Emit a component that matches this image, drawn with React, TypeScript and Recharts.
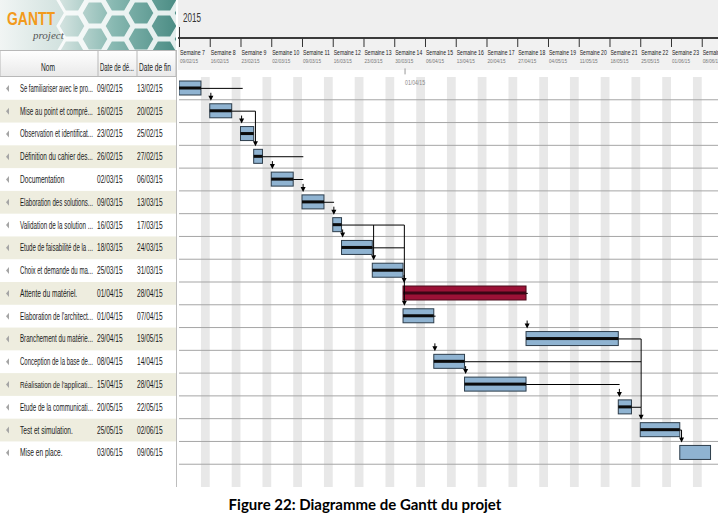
import React from 'react';
import { ComposedChart, Bar, XAxis, YAxis, ReferenceArea, ReferenceLine, ReferenceDot } from 'recharts';

// tâches du projet (colonne Nom, Date de début, Date de fin)
const taskNames = [
  'Se familiariser avec le pro...',
  'Mise au point et compré...',
  'Observation et identificat...',
  'Définition du cahier des...',
  'Documentation',
  'Elaboration des solutions...',
  'Validation de la solution ...',
  'Etude de faisabilité de la ...',
  'Choix et demande du ma...',
  'Attente du matériel.',
  "Elaboration de l'architect...",
  'Branchement du matérie...',
  'Conception de la base de...',
  "Réalisation de l'applicati...",
  'Etude de la communicati...',
  'Test et simulation.',
  'Mise en place.',
];
const startDates = ['09/02/15', '16/02/15', '23/02/15', '26/02/15', '02/03/15', '09/03/15', '16/03/15', '18/03/15', '25/03/15', '01/04/15', '01/04/15', '29/04/15', '08/04/15', '15/04/15', '20/05/15', '25/05/15', '03/06/15'];
const endDates = ['13/02/15', '20/02/15', '25/02/15', '27/02/15', '06/03/15', '13/03/15', '17/03/15', '24/03/15', '31/03/15', '28/04/15', '07/04/15', '19/05/15', '14/04/15', '28/04/15', '22/05/15', '02/06/15', '09/06/15'];
const progress = [100, 100, 100, 100, 100, 100, 100, 100, 100, 100, 100, 100, 100, 100, 100, 100, 0];
const criticalTasks = ['Attente du matériel.'];

// en-tête du calendrier
const weekNumbers = [7, 8, 9, 10, 11, 12, 13, 14, 15, 16, 17, 18, 19, 20, 21, 22, 23, 24];
const weekDates = ['09/02/15', '16/02/15', '23/02/15', '02/03/15', '09/03/15', '16/03/15', '23/03/15', '30/03/15', '06/04/15', '13/04/15', '20/04/15', '27/04/15', '04/05/15', '11/05/15', '18/05/15', '25/05/15', '01/06/15', '08/06/15'];
const todayLabel = '01/04/15';

// liens: [ligne, jusqu'au jour] ; descentes: [tâche cible, depuis la ligne, jour]
const hLinks = [[0, 14.5], [1, 17.4], [3, 28.3], [4, 28.3], [5, 35.3], [6, 51.3], [7, 51.3], [9, 79.4], [10, 58.4], [11, 105.2], [12, 105.2], [13, 100.3], [14, 105.2], [15, 114.4]];
const vLinks = [[3, 1, 17.4], [10, 6, 51.3], [8, 6, 44.3], [15, 11, 105.2], [16, 15, 114.4]];

const FONT = '"Liberation Sans", Arial, sans-serif';
const CHART_W = 539;
const CHART_H = 487;
const HEADER_H = 77;
const NROWS = 18;
const ROW_H = (CHART_H - HEADER_H) / NROWS;

const toDay = (s: string) => {
  const [d, m, y] = s.split('/').map(Number);
  return Math.round((Date.UTC(2000 + y, m - 1, d) - Date.UTC(2015, 1, 9)) / 86400000);
};

const tasks = taskNames.map((name, i) => {
  const s = toDay(startDates[i]);
  const e = toDay(endDates[i]) + 1;
  return { name, offset: s, duration: e - s, end: e, progress: progress[i], critical: criticalTasks.includes(name) };
});
const chartData: any[] = [...tasks, { name: '' }];
const weekStarts = weekDates.map(toDay);

let ctx: CanvasRenderingContext2D | null = null;
const measure = (text: string, size: number, weight = 'normal') => {
  if (!ctx) ctx = document.createElement('canvas').getContext('2d');
  if (!ctx) return text.length * size * 0.5;
  ctx.font = `${weight} ${size}px "Liberation Sans"`;
  return ctx.measureText(text).width || text.length * size * 0.5;
};

// texte écrasé horizontalement comme dans la capture
const SqText = ({ x, y, text, size = 10, width, max = 73, ratio = 0.66, fill = '#1a1a1a', anchor = 'start', weight = 'normal' }: any) => {
  const w = measure(text, size, weight);
  const target = width ?? Math.min(w * ratio, max);
  return (
    <text transform={`translate(${x},${y}) scale(${(target / w).toFixed(3)},1)`} fontSize={size} fill={fill}
      fontFamily={FONT} fontWeight={weight} textAnchor={anchor}>{text}</text>
  );
};

const hexPath = (cx: number, cy: number, r: number) => {
  const pts = [0, 1, 2, 3, 4, 5].map(k => {
    const a = (Math.PI / 3) * k;
    return `${(cx + r * Math.cos(a)).toFixed(1)},${(cy + r * Math.sin(a)).toFixed(1)}`;
  });
  return `M${pts.join('L')}Z`;
};

const LeftPanel = () => (
  <svg width={178} height={CHART_H} style={{ position: 'absolute', left: 0, top: 0 }}>
    <defs>
      <linearGradient id="logoBg" x1="0" y1="0" x2="1" y2="0">
        <stop offset="0%" stopColor="#f1f5f4" />
        <stop offset="35%" stopColor="#d2e2df" />
        <stop offset="65%" stopColor="#87b8b1" />
        <stop offset="100%" stopColor="#4c8d85" />
      </linearGradient>
      <linearGradient id="headBg" x1="0" y1="0" x2="0" y2="1">
        <stop offset="0%" stopColor="#ffffff" />
        <stop offset="100%" stopColor="#e9e9e9" />
      </linearGradient>
      <clipPath id="logoClip"><rect x={0} y={0} width={176} height={50} /></clipPath>
    </defs>
    <rect x={0} y={0} width={176} height={50} fill="url(#logoBg)" />
    <g clipPath="url(#logoClip)" stroke="#ffffff" strokeWidth={3} fill="none" opacity={0.85}>
      {[0, 1, 2, 3, 4, 5].map(c => [-1, 0, 1, 2].map(r => (
        <path key={`${c}-${r}`} d={hexPath(72 + c * 23, r * 26 + (c % 2) * 13, 14)} />
      )))}
    </g>
    <SqText x={7} y={25} size={18} text="GANTT" width={48} fill="#f29a1c" weight="bold" />
    <text x={33} y={39} fontSize={11} fontStyle="italic" fill="#555" fontFamily='"Liberation Serif", serif'>project</text>

    <rect x={0} y={50.5} width={176} height={26} fill="url(#headBg)" stroke="#b8b8b8" />
    <line x1={98} x2={98} y1={51} y2={77} stroke="#b8b8b8" />
    <line x1={137} x2={137} y1={51} y2={77} stroke="#b8b8b8" />
    <SqText x={48} y={71} text="Nom" anchor="middle" />
    <SqText x={100} y={71} text="Date de dé..." max={34} />
    <SqText x={139} y={71} text="Date de fin" max={33} />

    {tasks.map((t, i) => {
      const top = HEADER_H + i * ROW_H;
      const cy = top + ROW_H / 2;
      return (
        <g key={t.name}>
          {i % 2 === 1 && <rect x={0} y={top} width={176} height={ROW_H} fill="#eeeddf" />}
          <path d={`M9,${cy - 3.5} L6,${cy} L9,${cy + 3.5} Z`} fill="#a5a5a5" />
          <SqText x={20} y={cy + 3.5} text={t.name} />
          <SqText x={97} y={cy + 3.5} text={startDates[i]} max={27} />
          <SqText x={137} y={cy + 3.5} text={endDates[i]} max={27} />
        </g>
      );
    })}
    <line x1={176.5} x2={176.5} y1={50} y2={CHART_H} stroke="#bdbdbd" />
  </svg>
);

const WeekTick = (props: any) => {
  const { x, index } = props;
  const n = weekNumbers[index];
  if (n === undefined) return null;
  return (
    <g>
      {index === 0 && <SqText x={x + 4} y={22} size={13} text="2015" width={18} fill="#333" />}
      <line x1={x + 0.5} x2={x + 0.5} y1={index === 0 ? 27 : 38} y2={47} stroke="#333" />
      <SqText x={x + 1} y={55} size={8} text={`Semaine ${n}`} width={n < 10 ? 25 : 27} fill="#222" />
      <SqText x={x + 1} y={63} size={6} text={weekDates[index]} width={18} fill="#777" />
    </g>
  );
};

const TaskBar = (props: any) => {
  const { x, y, width, height, payload } = props;
  if (!payload || !(width > 0)) return null;
  const red = payload.critical;
  const fill = red ? '#9b1136' : '#8fb3d1';
  const stroke = red ? '#4a0a1a' : '#2d3d4b';
  const line = red ? '#3a0615' : '#0b0b0b';
  const pw = (width * payload.progress) / 100;
  return (
    <g>
      <rect x={x} y={y} width={width} height={height} fill={fill} stroke={stroke} strokeWidth={1} />
      {pw > 0 && <rect x={x} y={y + height / 2 - 1.5} width={pw} height={3} fill={line} />}
    </g>
  );
};

// flèche posée sur le haut de la ligne (cy = centre de la ligne)
const Arrow = ({ cx, cy, long }: any) => {
  const tip = cy - ROW_H / 2 + 1;
  return (
    <g>
      <line x1={cx} x2={cx} y1={long ? cy - ROW_H : tip - 8} y2={tip - 4} stroke="#000" />
      <path d={`M${cx - 2.5},${tip - 5} L${cx + 2.5},${tip - 5} L${cx},${tip} Z`} fill="#000" />
    </g>
  );
};

const TodayMark = ({ cx, cy }: any) => (
  <g>
    <line x1={cx + 2} x2={cx + 2} y1={cy - 20} y2={cy - 14} stroke="#999" />
    <SqText x={cx + 2} y={cy - 3} size={7} text={todayLabel} width={20} fill="#888" />
  </g>
);

export default function App() {
  return (
    <div style={{ position: 'absolute', left: 0, top: 0, width: 718, height: 513, background: '#fff', overflow: 'hidden' }}>
      <LeftPanel />
      <div style={{ position: 'absolute', left: 178, top: 0, width: 540, height: 37, background: '#efefef' }} />
      <div style={{ position: 'absolute', left: 178, top: 37, width: 540, height: 2, background: '#3a3a3a' }} />
      <div style={{ position: 'absolute', left: 178, top: 39, width: 540, height: 31, background: '#f1f1f1' }} />
      <div style={{ position: 'absolute', left: 179, top: 0 }}>
        <ComposedChart width={CHART_W} height={CHART_H} data={chartData} layout="vertical"
          margin={{ top: 0, right: 0, bottom: 0, left: 0 }} barCategoryGap={0}>
          <XAxis type="number" orientation="top" domain={[0, 122.7]} ticks={weekStarts} interval={0}
            height={HEADER_H} axisLine={false} tickLine={false} tick={(p: any) => <WeekTick {...p} />} allowDataOverflow />
          <YAxis type="category" dataKey="name" hide />

          {weekStarts.filter(w => w + 5 < 122.7).map(w => (
            <ReferenceArea key={`we-${w}`} x1={w + 5} x2={Math.min(w + 7, 122.7)}
              fill="#e8e8e8" fillOpacity={1} stroke="none" ifOverflow="hidden" />
          ))}
          {tasks.map(t => (
            <ReferenceLine key={`rl-${t.name}`} y={t.name} position="end" stroke="#a5a5a5" strokeWidth={1} />
          ))}

          <Bar dataKey="offset" stackId="g" fill="none" barSize={14} isAnimationActive={false} />
          <Bar dataKey="duration" stackId="g" barSize={14} shape={(p: any) => <TaskBar {...p} />} isAnimationActive={false} />

          {hLinks.map(([r, to]) => (
            <ReferenceLine key={`h-${r}-${to}`} stroke="#000" strokeWidth={1}
              segment={[{ x: tasks[r].end, y: tasks[r].name }, { x: to, y: tasks[r].name }]} />
          ))}
          {vLinks.filter(([target, from]) => target - 1 > from).map(([target, from, d]) => (
            <ReferenceLine key={`v-${target}-${from}`} stroke="#000" strokeWidth={1}
              segment={[{ x: d, y: tasks[from].name }, { x: d, y: tasks[target - 1].name }]} />
          ))}
          {tasks.slice(1).map((t, i) => {
            const link = vLinks.find(v => v[0] === i + 1);
            return (
              <ReferenceDot key={`a-${t.name}`} x={link ? link[2] : t.offset + 0.25} y={t.name} r={0}
                shape={(p: any) => <Arrow {...p} long={!!link} />} />
            );
          })}
          <ReferenceDot x={toDay(todayLabel)} y={tasks[0].name} r={0} shape={(p: any) => <TodayMark {...p} />} />
        </ComposedChart>
      </div>
      <div style={{ position: 'absolute', left: 0, top: 495, width: 730, textAlign: 'center', fontFamily: 'Lato, sans-serif', fontWeight: 'bold', fontSize: 15, lineHeight: '18px', color: '#000' }}>
        Figure 22: Diagramme de Gantt du projet
      </div>
    </div>
  );
}
